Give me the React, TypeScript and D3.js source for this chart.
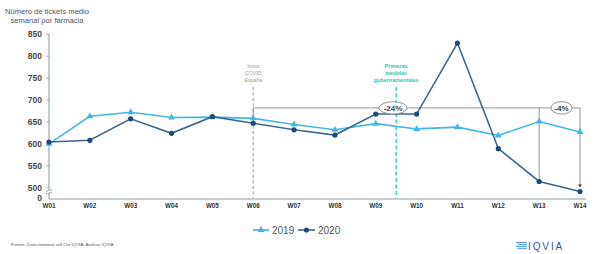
import React from "react";
import * as d3 from "d3";

const weeks = ["W01","W02","W03","W04","W05","W06","W07","W08","W09","W10","W11","W12","W13","W14"];
const values2019 = [600, 663, 672, 660, 661, 658, 644, 632, 646, 634, 638, 619, 651, 627];
const values2020 = [604, 608, 657, 624, 662, 647, 632, 620, 668, 668, 830, 589, 514, 491];
const yTicks = [500, 550, 600, 650, 700, 750, 800, 850];
const boxLevel = 682;
const pctLabels = ["-24%", "-4%"];

const W = 599, H = 254;
const C2019 = "#45b5e8";
const C2020L = "#3d6890";
const C2020M = "#1d4a7c";
const CYAN = "#2fc4b4";
const FONT = "Arial, 'Liberation Sans', Helvetica, sans-serif";

export default function App() {
  const x = d3.scalePoint<string>().domain(weeks).range([49, 580]);
  const y = d3.scaleLinear().domain([477, 850]).range([197.7, 34.3]);
  const line = d3.line<number>().x((_, i) => x(weeks[i])!).y((d) => y(d));
  const tri = d3.symbol().type(d3.symbolTriangle).size(20)();
  const yBox = y(boxLevel);
  const x06 = x("W06")!, x13 = x("W13")!, x14 = x("W14")!;
  const xMid = (x("W09")! + x("W10")!) / 2;
  return (
    <svg width={W} height={H} style={{ position: "absolute", left: 0, top: 0, display: "block" }} fontFamily={FONT}>
      <rect width={W} height={H} fill="#fff" />
      {/* title */}
      <text x={47} y={13.5} textAnchor="middle" fontSize={7.6} fill="#555">Número de tickets medio</text>
      <text x={47} y={22.5} textAnchor="middle" fontSize={7.6} fill="#555">semanal por farmacia</text>
      {/* y axis */}
      <line x1={49} x2={49} y1={y(850)} y2={199} stroke="#9aa" strokeWidth={1.2} />
      {yTicks.map((t) => (
        <g key={t}>
          <line x1={46.5} x2={49} y1={y(t)} y2={y(t)} stroke="#9aa" strokeWidth={1} />
          <text x={42} y={y(t) + 3} textAnchor="end" fontSize={8.5} fontWeight={600} fill="#4a4a4a">{t}</text>
        </g>
      ))}
      <text x={42} y={201} textAnchor="end" fontSize={8.5} fontWeight={600} fill="#4a4a4a">0</text>
      {/* axis break */}
      <rect x={46} y={190} width={6} height={3} fill="#fff" />
      <line x1={46} x2={52} y1={191.5} y2={189.5} stroke="#9aa" strokeWidth={0.9} />
      <line x1={46} x2={52} y1={194} y2={192} stroke="#9aa" strokeWidth={0.9} />
      {/* x axis */}
      <line x1={49} x2={586} y1={199} y2={199} stroke="#b5bcc4" strokeWidth={1.5} />
      {weeks.map((w) => (
        <text key={w} x={x(w)} y={207.5} textAnchor="middle" fontSize={6.3} fontWeight={700} fill="#333">{w}</text>
      ))}
      {/* event lines */}
      <line x1={x06} x2={x06} y1={87} y2={198} stroke="#aaa" strokeWidth={1.2} strokeDasharray="3,2.5" />
      {["Inicio", "COVID", "España"].map((s, i) => (
        <text key={s} x={x06} y={68 + i * 7} textAnchor="middle" fontSize={5.2} fill="#999">{s}</text>
      ))}
      <line x1={xMid} x2={xMid} y1={87} y2={198} stroke={CYAN} strokeWidth={1.3} strokeDasharray="4,2.5" />
      {["Primeras", "medidas", "gubernamentales"].map((s, i) => (
        <text key={s} x={xMid} y={68 + i * 7} textAnchor="middle" fontSize={5.4} fontWeight={700} fill={CYAN}>{s}</text>
      ))}
      {/* annotation box */}
      <path d={`M${x06},${y(values2020[5])}V${yBox}H${x14}V${y(values2020[13]) - 6}`} fill="none" stroke="#888" strokeWidth={0.9} />
      <path d={`M${x14 - 2},${y(values2020[13]) - 7}L${x14 + 2},${y(values2020[13]) - 7}L${x14},${y(values2020[13]) - 4}Z`} fill="#444" />
      <line x1={x13} x2={x13} y1={yBox} y2={y(values2020[12])} stroke="#888" strokeWidth={0.9} />
      {/* series */}
      <path d={line(values2019)!} fill="none" stroke={C2019} strokeWidth={1.6} />
      {values2019.map((v, i) => (
        <path key={i} d={tri!} transform={`translate(${x(weeks[i])},${y(v)})`} fill={C2019} />
      ))}
      <path d={line(values2020)!} fill="none" stroke={C2020L} strokeWidth={1.6} />
      {values2020.map((v, i) => (
        <circle key={i} cx={x(weeks[i])} cy={y(v)} r={2.6} fill={C2020M} />
      ))}
      {/* percent labels */}
      <ellipse cx={393} cy={yBox} rx={14} ry={6.2} fill="#fff" stroke="#888" strokeWidth={0.9} />
      <text x={393} y={yBox + 3} textAnchor="middle" fontSize={8} fontWeight={700} fill="#444">{pctLabels[0]}</text>
      <ellipse cx={561.5} cy={yBox} rx={10.5} ry={6.2} fill="#fff" stroke="#888" strokeWidth={0.9} />
      <text x={561.5} y={yBox + 3} textAnchor="middle" fontSize={8} fontWeight={700} fill="#444">{pctLabels[1]}</text>
      {/* legend */}
      <line x1={253} x2={269} y1={230} y2={230} stroke={C2019} strokeWidth={1.6} />
      <path d={tri!} transform="translate(261,230)" fill={C2019} />
      <text x={272} y={233.5} fontSize={10} fill="#555">2019</text>
      <line x1={298} x2={315} y1={230} y2={230} stroke={C2020L} strokeWidth={1.6} />
      <circle cx={306.5} cy={230} r={2.6} fill={C2020M} />
      <text x={318} y={233.5} fontSize={10} fill="#555">2020</text>
      {/* source */}
      <text x={11} y={245.5} fontSize={4.4} fill="#555">Fuente: Dato semanal sell Out IQVIA; Análisis IQVIA</text>
      {/* logo */}
      <g>
        {[0, 1, 2, 3].map((i) => (
          <rect key={i} x={516 + (i % 2) * 1.5} y={241.8 + i * 2} width={11 - (i % 2) * 1.5} height={1.3} fill="#6aa8dc" />
        ))}
        <text x={528} y={249.5} fontSize={10} fontWeight={400} fill="#1f5aa6" letterSpacing={1.9}>IQVIA</text>
      </g>
    </svg>
  );
}
